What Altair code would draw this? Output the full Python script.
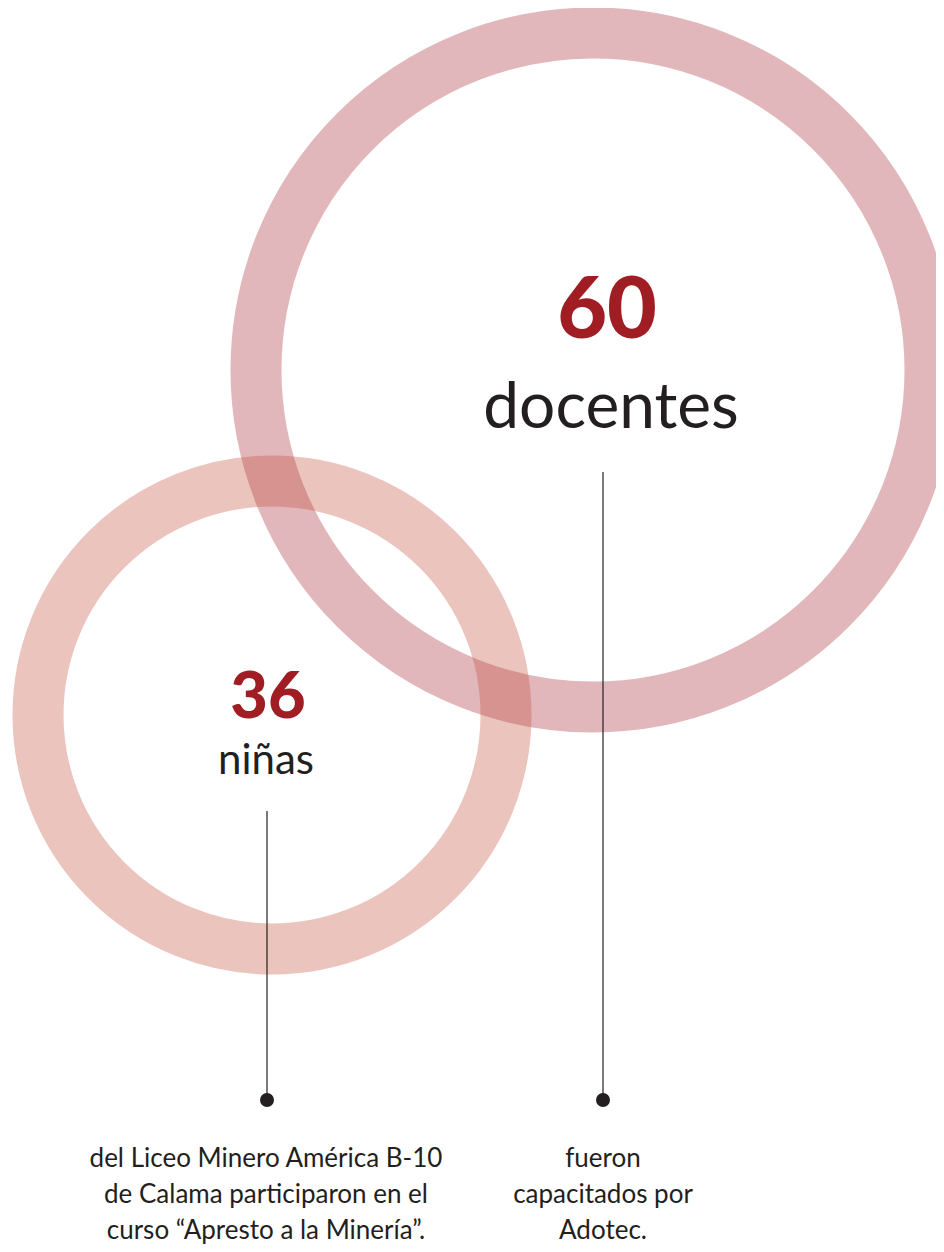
import altair as alt
import pandas as pd

# ---- data -------------------------------------------------------------
labels = ["docentes", "niñas"]
numbers = ["60", "36"]
center_x = [593, 272]
center_y = [370, 715]
ring_radius = [337, 234]          # radius of the ring's mid line
ring_colors = ["#a4242e", "#c44a37"]
number_x = [607, 268]
number_y = [338, 718]
number_size = [86, 65]
label_x = [611, 266]
label_y = [428, 774]
label_size = [64, 42]
leader_x = [603, 267]
leader_top = [472, 811]
leader_bottom = [1100, 1100]
descriptions = [
    "fueron\ncapacitados por\nAdotec.",
    "del Liceo Minero América B-10\nde Calama participaron en el\ncurso “Apresto a la Minería”.",
]
desc_x = [603, 266]
desc_y = [1167, 1167]

df = pd.DataFrame({
    "label": labels, "number": numbers,
    "cx": center_x, "cy": center_y, "r": ring_radius, "col": ring_colors,
    "nx": number_x, "ny": number_y, "nsize": number_size,
    "lx": label_x, "ly": label_y, "lsize": label_size,
    "kx": leader_x, "ktop": leader_top, "kbot": leader_bottom,
    "desc": descriptions, "dx": desc_x, "dy": desc_y,
})

XS = alt.Scale(domain=[8, 936], nice=False, zero=False)
YS = alt.Scale(domain=[8, 1244], nice=False, zero=False, reverse=True)
INK = "#231f20"
RED = "#a11d24"

base = alt.Chart(df)

rings = base.transform_calculate(
    s="pow(2 * datum.r, 2)"
).mark_point(shape="circle", filled=False, strokeWidth=51, opacity=0.32).encode(
    x=alt.X("cx:Q", scale=XS, axis=None),
    y=alt.Y("cy:Q", scale=YS, axis=None),
    size=alt.Size("s:Q", scale=None, legend=None),
    color=alt.Color("col:N", scale=None, legend=None),
)

nums = base.mark_text(font="Lato", fontWeight=900, color=RED,
                      align="center", baseline="alphabetic").encode(
    x=alt.X("nx:Q", scale=XS, axis=None),
    y=alt.Y("ny:Q", scale=YS, axis=None),
    text="number:N",
    size=alt.Size("nsize:Q", scale=None, legend=None),
)

labs = base.mark_text(font="Lato", color=INK, align="center",
                      baseline="alphabetic").encode(
    x=alt.X("lx:Q", scale=XS, axis=None),
    y=alt.Y("ly:Q", scale=YS, axis=None),
    text="label:N",
    size=alt.Size("lsize:Q", scale=None, legend=None),
)

leaders = base.mark_rule(color=INK, strokeWidth=1.2).encode(
    x=alt.X("kx:Q", scale=XS, axis=None),
    y=alt.Y("ktop:Q", scale=YS, axis=None),
    y2="kbot:Q",
)

dots = base.mark_circle(size=196, color=INK, opacity=1).encode(
    x=alt.X("kx:Q", scale=XS, axis=None),
    y=alt.Y("kbot:Q", scale=YS, axis=None),
)

descs = base.mark_text(font="Lato", fontSize=26, lineHeight=36, lineBreak="\n",
                       color=INK, align="center", baseline="alphabetic").encode(
    x=alt.X("dx:Q", scale=XS, axis=None),
    y=alt.Y("dy:Q", scale=YS, axis=None),
    text="desc:N",
)

chart = alt.layer(rings, leaders, dots, nums, labs, descs).properties(
    width=928, height=1236, padding=0, autosize=alt.AutoSizeParams(type="none"),
).configure(background="white").configure_view(stroke=None, strokeWidth=0)

chart.save("out.html", embed_options={"renderer": "svg", "actions": False})
